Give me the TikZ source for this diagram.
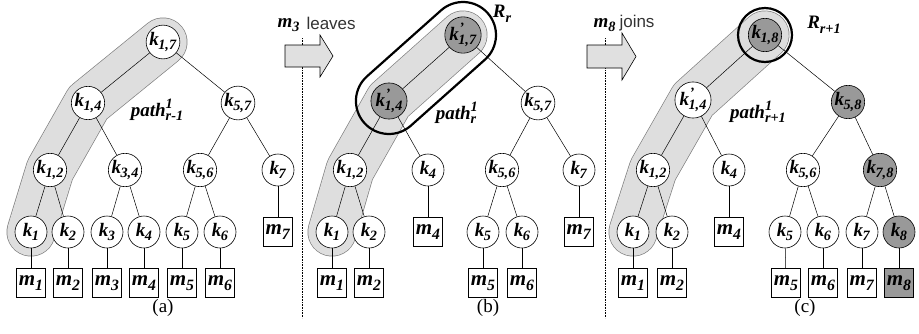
\documentclass[tikz,border=0pt]{standalone}
\usepackage{fontspec}
\setmainfont{Liberation Serif}
\setsansfont{Liberation Sans}
\usetikzlibrary{backgrounds}
\newcommand\bi[1]{\textbf{\textit{#1}}}
\newcommand\sbs[1]{\raisebox{-0.24em}{\scalebox{0.75}{\bi{#1}}}}
\newcommand\sps[1]{\raisebox{0.42em}{\scalebox{0.75}{\bi{#1}}}}
\newcommand\kn[1]{\bi{k}\kern-0.5pt\sbs{#1}}
\newcommand\knp[1]{\bi{k}\rlap{\kern0.5pt\sps{'}}\kern-0.5pt\sbs{#1}}
\newcommand\mn[1]{\bi{m}\sbs{#1}}
\newcommand\pth[1]{\bi{path}\rlap{\sps{1}}\sbs{#1}}
\tikzset{
  kn/.style={circle, draw, line width=0.6pt, fill=white, minimum size=32pt, inner sep=0pt, font=\fontsize{19}{19}\selectfont},
  gk/.style={kn, fill=black!40},
  mb/.style={rectangle, draw, line width=0.6pt, fill=white, minimum width=29pt, minimum height=29pt, inner sep=0pt, font=\fontsize{21}{21}\selectfont},
  gm/.style={mb, fill=black!40},
  ed/.style={draw, line width=0.5pt},
  bandout/.style={line width=49pt, draw=black!50, line cap=round, line join=round},
  bandin/.style={line width=47.6pt, draw=black!13, line cap=round, line join=round},
  ring/.style={line width=2.2pt, draw=black},
  lbl/.style={font=\fontsize{19}{19}\selectfont},
  captxt/.style={font=\fontsize{19}{19}\selectfont},
  divider/.style={densely dotted, line width=0.6pt},
  bigarrow/.style={draw, line width=0.6pt, fill=black!12},
  word/.style={font=\sffamily\fontsize{17}{17}\selectfont, text=black!80}
}
\begin{document}
\begin{tikzpicture}[x=1pt, y=-1pt]
\useasboundingbox (0,0) rectangle (919,333);
% ---------- panel (a)
\node[kn] (a17) at (163,42) {\kn{1,7}};
\node[kn] (a14) at (88,103) {\kn{1,4}};
\node[kn] (a57) at (238,103) {\kn{5,7}};
\node[kn] (a12) at (50,170) {\kn{1,2}};
\node[kn] (a34) at (125,170) {\kn{3,4}};
\node[kn] (a56) at (200,170) {\kn{5,6}};
\node[kn] (a7) at (278,170) {\kn{7}};
\node[kn] (a1) at (31,232) {\kn{1}};
\node[kn] (a2) at (68,232) {\kn{2}};
\node[kn] (a3) at (107,232) {\kn{3}};
\node[kn] (a4) at (144,232) {\kn{4}};
\node[kn] (a5) at (182,232) {\kn{5}};
\node[kn] (a6) at (220,232) {\kn{6}};
\node[mb] (am7) at (278,232) {\mn{7}};
\node[mb] (am1) at (31,283) {\mn{1}};
\node[mb] (am2) at (68,283) {\mn{2}};
\node[mb] (am3) at (107,283) {\mn{3}};
\node[mb] (am4) at (144,283) {\mn{4}};
\node[mb] (am5) at (182,283) {\mn{5}};
\node[mb] (am6) at (220,283) {\mn{6}};
\node[lbl] (apath) at (157,110) {\pth{r-1}};
\node[captxt] (acap) at (163,308) {(a)};
\foreach \u/\v in {a17/a14,a17/a57,a14/a12,a14/a34,a12/a1,a12/a2,a34/a3,a34/a4,a57/a56,a57/a7,a56/a5,a56/a6,a7/am7,a1/am1,a2/am2,a3/am3,a4/am4,a5/am5,a6/am6}
  \draw[ed] (\u) -- (\v);
% ---------- panel (b)
\node[gk] (b17) at (463,35) {\knp{1,7}};
\node[gk] (b14) at (389,101) {\knp{1,4}};
\node[kn] (b57) at (538,103) {\kn{5,7}};
\node[kn] (b12) at (350,170) {\kn{1,2}};
\node[kn] (b4) at (428,170) {\kn{4}};
\node[kn] (b56) at (502,170) {\kn{5,6}};
\node[kn] (b7) at (579,170) {\kn{7}};
\node[kn] (b1) at (332,232) {\kn{1}};
\node[kn] (b2) at (369,232) {\kn{2}};
\node[mb] (bm4) at (428,232) {\mn{4}};
\node[kn] (b5) at (483,232) {\kn{5}};
\node[kn] (b6) at (522,232) {\kn{6}};
\node[mb] (bm7) at (579,232) {\mn{7}};
\node[mb] (bm1) at (332,283) {\mn{1}};
\node[mb] (bm2) at (369,283) {\mn{2}};
\node[mb] (bm5) at (483,283) {\mn{5}};
\node[mb] (bm6) at (522,283) {\mn{6}};
\node[lbl] (bpath) at (456,113) {\pth{r}};
\node[lbl] (bR) at (502,14) {\bi{R}\sbs{r}};
\node[captxt] (bcap) at (488,308) {(b)};
\foreach \u/\v in {b17/b14,b17/b57,b14/b12,b14/b4,b12/b1,b12/b2,b4/bm4,b57/b56,b57/b7,b56/b5,b56/b6,b7/bm7,b1/bm1,b2/bm2,b5/bm5,b6/bm6}
  \draw[ed] (\u) -- (\v);
% ---------- panel (c)
\node[gk] (c18) at (765,35) {\kn{1,8}};
\node[kn] (c14) at (693,100) {\knp{1,4}};
\node[gk] (c58) at (848,102) {\kn{5,8}};
\node[kn] (c12) at (653,170) {\kn{1,2}};
\node[kn] (c4) at (729,170) {\kn{4}};
\node[kn] (c56) at (803,170) {\kn{5,6}};
\node[gk] (c78) at (880,170) {\kn{7,8}};
\node[kn] (c1) at (633,232) {\kn{1}};
\node[kn] (c2) at (672,232) {\kn{2}};
\node[mb] (cm4) at (729,232) {\mn{4}};
\node[kn] (c5) at (785,232) {\kn{5}};
\node[kn] (c6) at (823,232) {\kn{6}};
\node[kn] (c7) at (862,232) {\kn{7}};
\node[gk] (c8) at (899,232) {\kn{8}};
\node[mb] (cm1) at (633,283) {\mn{1}};
\node[mb] (cm2) at (672,283) {\mn{2}};
\node[mb] (cm5) at (786,283) {\mn{5}};
\node[mb] (cm6) at (823,283) {\mn{6}};
\node[mb] (cm7) at (862,283) {\mn{7}};
\node[gm] (cm8) at (899,283) {\mn{8}};
\node[lbl] (cpath) at (758,112) {\pth{r+1}};
\node[lbl] (cR) at (824,25) {\bi{R}\sbs{r+1}};
\node[captxt] (ccap) at (805,308) {(c)};
\foreach \u/\v in {c18/c14,c18/c58,c14/c12,c14/c4,c12/c1,c12/c2,c4/cm4,c58/c56,c58/c78,c56/c5,c56/c6,c78/c7,c78/c8,c1/cm1,c2/cm2,c5/cm5,c6/cm6,c7/cm7,c8/cm8}
  \draw[ed] (\u) -- (\v);
% ---------- dividers and arrows
\coordinate (d1t) at (302,38);
\coordinate (d1b) at (302,318);
\coordinate (d2t) at (605,38);
\coordinate (d2b) at (605,318);
\draw[divider] (d1t) -- (d1b);
\draw[divider] (d2t) -- (d2b);
\draw[bigarrow] (285,45) -- (320,45) -- (320,35) -- (333,56) -- (320,77) -- (320,67) -- (285,67) -- cycle;
\draw[bigarrow] (587,45) -- (622,45) -- (622,33) -- (636,56.5) -- (622,80) -- (622,68) -- (587,68) -- cycle;
\node[font=\fontsize{19}{19}\selectfont, anchor=east] (m3t) at (303,25) {\bi{m}\sbs{3}};
\node[word, anchor=west] (lv) at (303,23) {leaves};
\node[font=\fontsize{19}{19}\selectfont, anchor=east] (m8t) at (619,25) {\bi{m}\sbs{8}};
\node[word, anchor=west] (jn) at (616,23) {joins};
% ---------- background: bands and rings
\begin{pgfonlayer}{background}
  \draw[bandout] (a17.center) -- (a14.center) -- (a12.center) -- (a1.center);
  \draw[bandin] (a17.center) -- (a14.center) -- (a12.center) -- (a1.center);
  \draw[bandout] (b17.center) -- (b14.center) -- (b12.center) -- (b1.center);
  \draw[bandin] (b17.center) -- (b14.center) -- (b12.center) -- (b1.center);
  \begin{scope}[shift={(b17.center)}, rotate=221.7]
    \draw[ring, rounded corners=33pt] (-33,-33) rectangle (132.2,33);
  \end{scope}
  \draw[bandout] (c18.center) -- (c14.center) -- (c12.center) -- (c1.center);
  \draw[bandin] (c18.center) -- (c14.center) -- (c12.center) -- (c1.center);
  \draw[ring] (c18.center) circle[radius=27pt];
\end{pgfonlayer}
\end{tikzpicture}
\end{document}
